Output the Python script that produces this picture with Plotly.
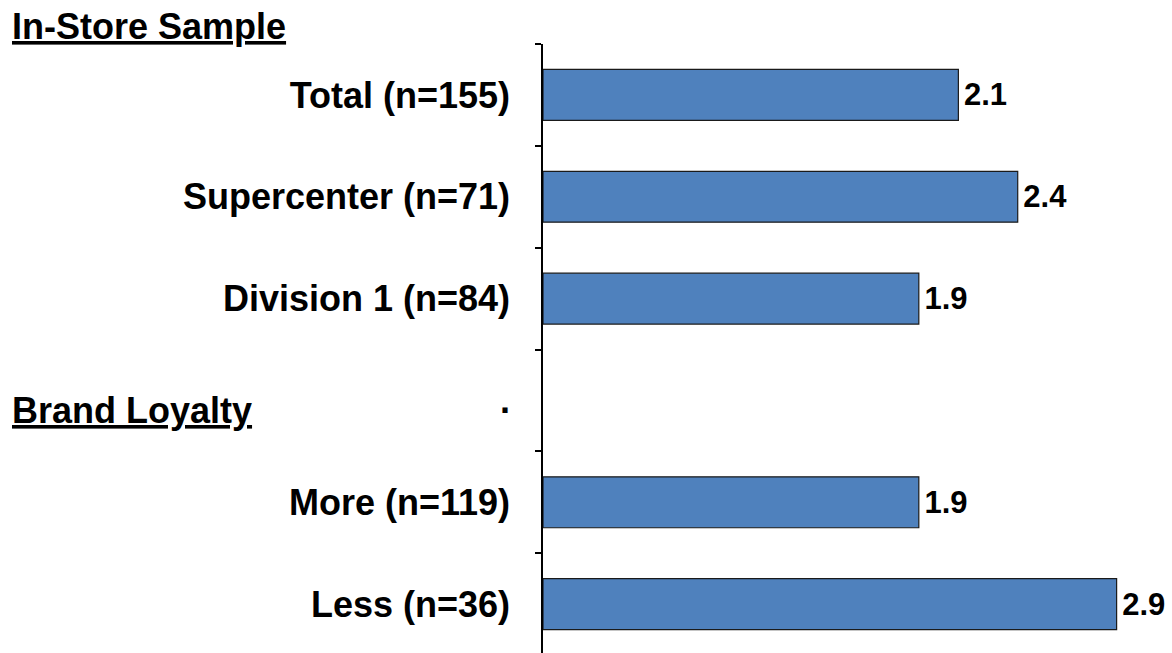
import plotly.graph_objects as go

# Survey groups (top to bottom); "." is the spacer row before the second section
categories = ["Total (n=155)", "Supercenter (n=71)", "Division 1 (n=84)", ".", "More (n=119)", "Less (n=36)"]
values = [2.1, 2.4, 1.9, None, 1.9, 2.9]
value_labels = ["2.1", "2.4", "1.9", "", "1.9", "2.9"]
section_titles = ["In-Store Sample", "Brand Loyalty"]

FONT = "Liberation Sans, Arial, sans-serif"

# a hair space nudges the value labels a little away from the bar ends
bar_text = ["\u200a" + s if s else "" for s in value_labels]

fig = go.Figure(
    go.Bar(
        y=categories,
        x=values,
        orientation="h",
        width=0.5,
        marker=dict(color="#4F81BD", line=dict(color="#1a1a1a", width=1.2)),
        text=bar_text,
        textposition="outside",
        textfont=dict(family=FONT, size=31, color="black", weight="bold"),
        cliponaxis=False,
        hoverinfo="skip",
    )
)

fig.update_layout(
    width=1172,
    height=653,
    margin=dict(l=543, r=0, t=44, b=0),
    paper_bgcolor="white",
    plot_bgcolor="white",
    showlegend=False,
    font=dict(family=FONT, color="black"),
)

fig.update_xaxes(
    range=[0, 3.18],
    visible=False,
    showgrid=False,
    zeroline=False,
)

fig.update_yaxes(
    type="category",
    categoryorder="array",
    categoryarray=categories,
    range=[5.48, -0.5],
    showline=True,
    linecolor="black",
    linewidth=1.5,
    ticks="outside",
    tickson="boundaries",
    ticklen=6,
    tickcolor="black",
    tickwidth=1.5,
    ticklabelstandoff=24,
    tickfont=dict(family=FONT, size=36, color="black", weight="bold"),
    showgrid=False,
    zeroline=False,
)

# Section headings on the left edge
for title, ypix in zip(section_titles, [26, 410]):
    fig.add_annotation(
        text=f"<u>{title}</u>",
        xref="paper", yref="paper",
        x=-543 / 629 + 10 / 629, xanchor="left",
        y=1 - (ypix - 44) / 609, yanchor="middle",
        showarrow=False,
        font=dict(family=FONT, size=36, color="black", weight="bold"),
    )

fig.write_html("out.html")
